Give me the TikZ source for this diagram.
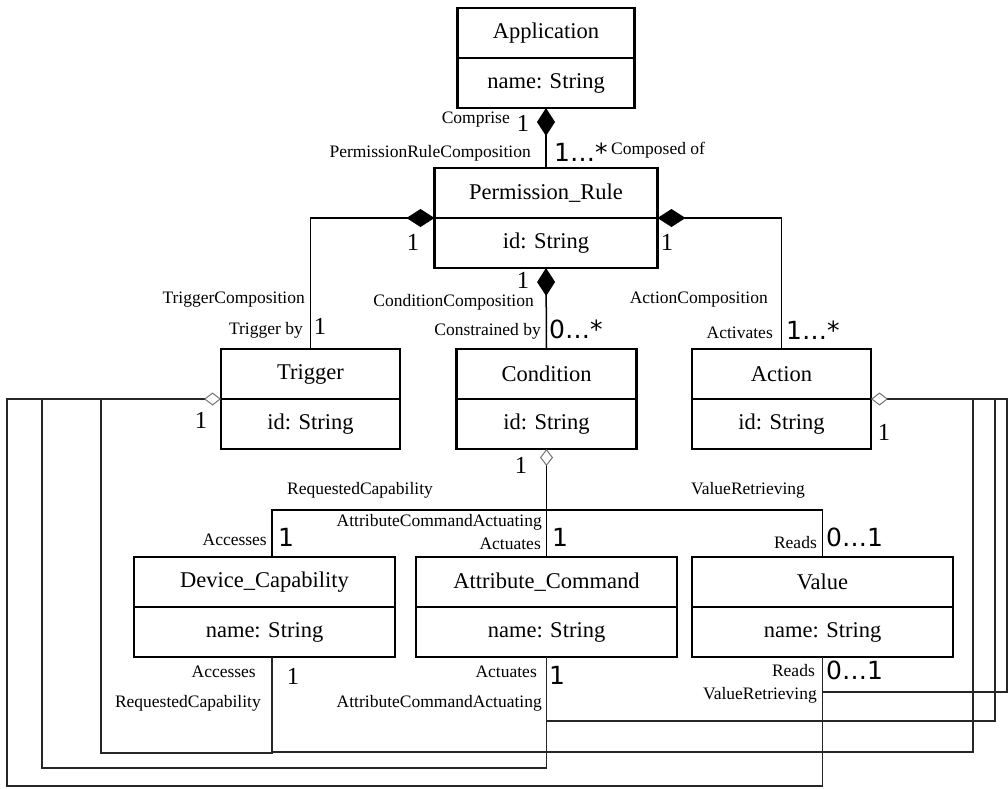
\documentclass[tikz,border=0pt]{standalone}
\usepackage{fontspec}
\setmainfont{Liberation Serif}
\newfontfamily\multfont{DejaVu Sans}
\usetikzlibrary{arrows.meta}
\usetikzlibrary{positioning}

\tikzset{
  cls/.style={draw, line width=2.4pt, minimum width=#1, minimum height=50pt, inner sep=0pt, outer sep=0pt, font=\fontsize{22.5}{26}\selectfont},
  comp/.style={line width=1.5pt},
  route/.style={line width=1.3pt, black!85},
  lbl/.style={inner sep=0pt, font=\fontsize{17.5}{20}\selectfont},
  mult/.style={inner sep=0pt, font=\fontsize{24.5}{28}\selectfont},
  smult/.style={inner sep=0pt, font=\multfont\fontsize{25}{28}\selectfont},
  fdia/.style={arrows={Diamond[length=28pt,width=18pt]-}},
  odia/.style={arrows={Diamond[open,length=17pt,width=13pt,line width=1pt,color=black!55]-}},
}

\begin{document}
\begin{tikzpicture}[x=1pt,y=-1pt]
\useasboundingbox (0,0) rectangle (1008,788);

\node[cls=177pt] (app) at (546,33) {Application};
\node[cls=177pt, below=0pt of app] (appa) {name: String};
\node[cls=223pt] (pr) at (546,193) {Permission\_Rule};
\node[cls=223pt, below=0pt of pr] (pra) {id: String};
\node[cls=179pt] (trig) at (310.5,374) {Trigger};
\node[cls=179pt, below=0pt of trig] (triga) {id: String};
\node[cls=180pt] (cond) at (546.5,374) {Condition};
\node[cls=180pt, below=0pt of cond] (conda) {id: String};
\node[cls=179pt] (act) at (781.5,374) {Action};
\node[cls=179pt, below=0pt of act] (acta) {id: String};
\node[cls=261pt] (dev) at (264.5,582) {Device\_Capability};
\node[cls=261pt, below=0pt of dev] (deva) {name: String};
\node[cls=261pt] (attr) at (546.5,582) {Attribute\_Command};
\node[cls=261pt, below=0pt of attr] (attra) {name: String};
\node[cls=261pt] (val) at (822.5,582) {Value};
\node[cls=261pt, below=0pt of val] (vala) {name: String};

\draw[comp, fdia] (appa.south) -- (pr.north);
\draw[comp, fdia] (pra.north west) -| (trig.north);
\draw[comp, fdia] (pra.north east) -| (act.north);
\draw[comp, fdia] (pra.south) -- (cond.north);

\draw[comp, odia] (conda.south) -- (546.5,510) coordinate (cbr);
\draw[comp] (cbr) -| ([xshift=7.5pt]dev.north);
\draw[comp] (cbr) -- (attr.north);
\draw[comp] (cbr) -| (val.north);

\coordinate (trtip) at ([xshift=-17pt]triga.north west);
\coordinate (actip) at ([xshift=17pt]acta.north east);
\draw[comp, odia] (triga.north west) -- (trtip);
\draw[comp, odia] (acta.north east) -- (actip);

\draw[route] (trtip) -- (101,399) -- (101,753) -| ([xshift=7.5pt]deva.south);
\draw[route] (trtip) -- (42,399) -- (42,768) -| (attra.south);
\draw[route] (trtip) -- (7,399) -- (7,786) -| (vala.south);
\draw[route] (actip) -- (973,399) -- (973,752) -| ([xshift=7.5pt]deva.south);
\draw[route] (actip) -- (995,399) -- (995,721) -| (attra.south);
\draw[route] (actip) -- (1007,399) -- (1007,692) -| (vala.south);

\node[lbl, anchor=east] (l-compr) at (510,120) {Comprise};
\node[mult] (m-app) at (523,123) {1};
\node[lbl, anchor=east] (l-prc) at (531,153) {PermissionRuleComposition};
\node[smult, anchor=west] (m-pr) at (554,152) {1…*};
\node[lbl, anchor=west] (l-compo) at (611,150) {Composed of};

\node[mult] (m-prt) at (413,242) {1};
\node[lbl, anchor=east] (l-tc) at (305,300) {TriggerComposition};
\node[lbl, anchor=east] (l-tb) at (303,330) {Trigger by};
\node[mult] (m-trig) at (320,326) {1};

\node[mult] (m-prc) at (523,280) {1};
\node[lbl, anchor=east] (l-cc) at (534,302) {ConditionComposition};
\node[lbl, anchor=east] (l-cb) at (541,331) {Constrained by};
\node[smult, anchor=west] (m-cond) at (549,329) {0…*};

\node[mult] (m-pra) at (667,242) {1};
\node[lbl, anchor=east] (l-ac) at (768,300) {ActionComposition};
\node[lbl, anchor=east] (l-av) at (773,333) {Activates};
\node[smult, anchor=west] (m-act) at (786,330) {1…*};

\node[mult] (m-cnd) at (521,465) {1};
\node[lbl] (l-rc) at (360,490) {RequestedCapability};
\node[lbl] (l-vr) at (748,490) {ValueRetrieving};
\node[lbl, anchor=east] (l-aca) at (542,522) {AttributeCommandActuating};
\node[lbl, anchor=east] (l-act) at (541,544) {Actuates};
\node[smult, anchor=west] (m-attr) at (552,537) {1};
\node[lbl, anchor=east] (l-acc) at (267,540) {Accesses};
\node[smult, anchor=west] (m-dev) at (278,537) {1};
\node[lbl, anchor=east] (l-rd) at (817,543) {Reads};
\node[smult, anchor=west] (m-val) at (826,537) {0…1};

\node[mult] (m-trg) at (201,420) {1};
\node[mult] (m-acn) at (884,432) {1};
\node[lbl, anchor=east] (l-acc2) at (256,672) {Accesses};
\node[mult] (m-dev2) at (293,676) {1};
\node[lbl, anchor=east] (l-rc2) at (261,703) {RequestedCapability};
\node[lbl, anchor=east] (l-act2) at (537,672) {Actuates};
\node[smult, anchor=west] (m-attr2) at (549,675) {1};
\node[lbl, anchor=east] (l-aca2) at (542,703) {AttributeCommandActuating};
\node[lbl, anchor=east] (l-rd2) at (815,670) {Reads};
\node[smult, anchor=west] (m-val2) at (826,670) {0…1};
\node[lbl, anchor=east] (l-vr2) at (817,695) {ValueRetrieving};

\end{tikzpicture}
\end{document}
